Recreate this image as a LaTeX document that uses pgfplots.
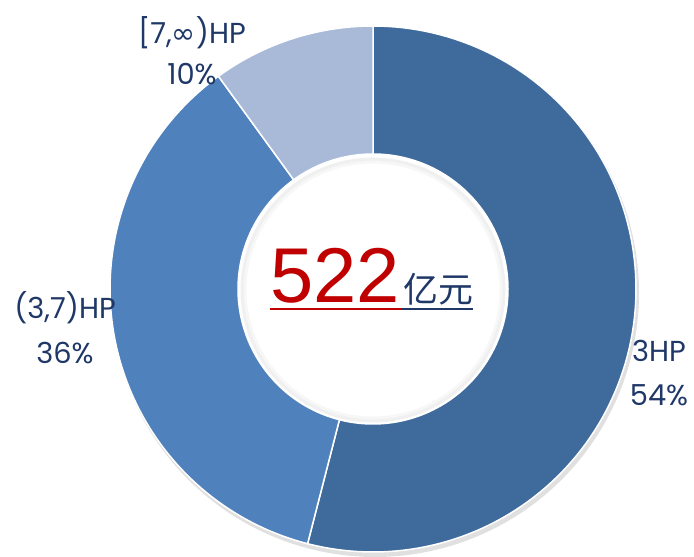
\documentclass[border=0pt]{standalone}
\usepackage{pgfplots}
\pgfplotsset{compat=1.18}
\usepackage{fontspec}
\setmainfont{Poppins}
\newfontfamily\cjk{Noto Sans CJK SC}
\newfontfamily\sym{DejaVu Sans}
\newfontfamily\arial{Liberation Sans}
\definecolor{c1}{HTML}{3F6A9C}
\definecolor{c2}{HTML}{4F81BD}
\definecolor{c3}{HTML}{A9BAD9}
\definecolor{txt}{HTML}{1F3868}
\definecolor{redc}{HTML}{C00000}
% slice shares (percent): 3HP 54, (3,7)HP 36, [7,inf)HP 10
\begin{document}
\begin{tikzpicture}
\begin{axis}[width=694bp,height=555bp,scale only axis,
  xmin=0,xmax=694,ymin=0,ymax=555,hide axis,clip=false]
\path (rel axis cs:0,0) rectangle (rel axis cs:1,1);
% soft shadow
\addplot[draw=none,fill=black,opacity=0.12,domain=0:360,samples=181,variable=\t]
  ({375+264*cos(t)},{262+264*sin(t)}) -- cycle;
% 3HP 54%
\addplot[fill=c1,draw=white,line width=1.5bp,domain={90-3.6*54}:{90},samples=120,variable=\t]
  ({373+263*cos(t)},{266+263*sin(t)}) -- (axis cs:373,266) -- cycle;
% (3,7)HP 36%
\addplot[fill=c2,draw=white,line width=1.5bp,domain={90-3.6*90}:{90-3.6*54},samples=90,variable=\t]
  ({373+263*cos(t)},{266+263*sin(t)}) -- (axis cs:373,266) -- cycle;
% [7,inf)HP 10%
\addplot[fill=c3,draw=white,line width=1.5bp,domain={90-3.6*100}:{90-3.6*90},samples=30,variable=\t]
  ({373+263*cos(t)},{266+263*sin(t)}) -- (axis cs:373,266) -- cycle;
% inner hole
\addplot[fill=white,draw=white,line width=1.5bp,domain=0:360,samples=181,variable=\t]
  ({373+135*cos(t)},{266+135*sin(t)}) -- cycle;
\addplot[draw=black,opacity=0.06,line width=3bp,domain=0:360,samples=181,variable=\t]
  ({373+131*cos(t)},{265+131*sin(t)}) -- cycle;
\addplot[draw=black,opacity=0.03,line width=3bp,domain=0:360,samples=181,variable=\t]
  ({373+128*cos(t)},{265+128*sin(t)}) -- cycle;
% center text
\node[anchor=base west,inner sep=0pt,text=redc] (n1) at (axis cs:270,252)
  {\arial\fontsize{78}{78}\selectfont 522};
\node[anchor=base west,inner sep=0pt,text=txt] (n2) at ([xshift=3bp]n1.base east)
  {\cjk\fontsize{35}{35}\selectfont 亿元};
\draw[redc,line width=2.5bp] ([yshift=-6bp]n1.base west) -- ([yshift=-6bp,xshift=2bp]n1.base east);
\draw[txt,line width=2.5bp] ([yshift=-6bp,xshift=2bp]n1.base east) -- ([yshift=-6bp]n2.base east);
% labels
\node[align=center,text=txt,font=\fontsize{29}{41}\selectfont] at (axis cs:192,504)
  {[7,{\sym ∞})HP\\10\%};
\node[align=center,text=txt,font=\fontsize{29}{45}\selectfont] at (axis cs:65,227)
  {(3,7)HP\\36\%};
\node[align=center,text=txt,font=\fontsize{29}{44}\selectfont] at (axis cs:659,182)
  {3HP\\54\%};
\end{axis}
\end{tikzpicture}
\end{document}
